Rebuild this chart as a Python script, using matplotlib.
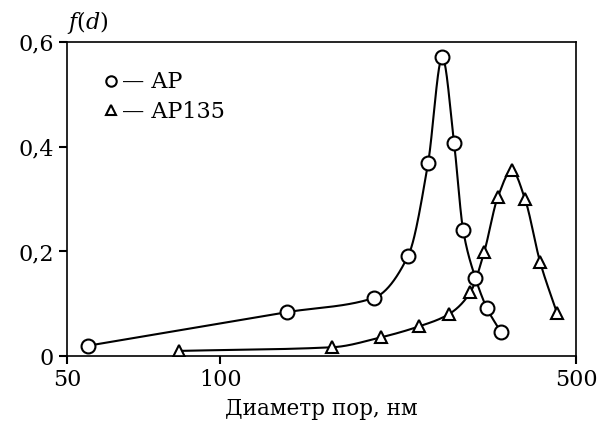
import numpy as np
import matplotlib
matplotlib.use('Agg')
import matplotlib.pyplot as plt
from matplotlib.ticker import FixedLocator, NullLocator

plt.rcParams['font.family'] = ['DejaVu Serif']
plt.rcParams['mathtext.fontset'] = 'dejavuserif'

# AP (circles)
ap_d = [55, 135, 200, 234, 256, 273, 288, 300, 317, 334, 356]
ap_f = [0.020, 0.084, 0.111, 0.192, 0.369, 0.571, 0.407, 0.241, 0.150, 0.092, 0.046]

# AP135 (triangles)
ap135_d = [83, 166, 207, 246, 281, 310, 330, 351, 374, 397, 425, 459]
ap135_f = [0.010, 0.017, 0.036, 0.057, 0.080, 0.122, 0.199, 0.304, 0.355, 0.300, 0.180, 0.082]

x_ticks = [50, 100, 500]
x_tick_labels = ['50', '100', '500']
y_ticks = [0, 0.2, 0.4, 0.6]
y_tick_labels = ['0', '0,2', '0,4', '0,6']


def pchip(x, y, n=40):
    # monotone cubic through the points, in log-x space
    x = np.log10(np.asarray(x, float))
    y = np.asarray(y, float)
    h = np.diff(x)
    delta = np.diff(y) / h
    m = np.zeros_like(y)
    for k in range(1, len(y) - 1):
        if delta[k - 1] * delta[k] > 0:
            w1 = 2 * h[k] + h[k - 1]
            w2 = h[k] + 2 * h[k - 1]
            m[k] = (w1 + w2) / (w1 / delta[k - 1] + w2 / delta[k])
    m[0] = delta[0]
    m[-1] = delta[-1]
    xs, ys = [], []
    for k in range(len(h)):
        t = np.linspace(0, 1, n)
        h00 = 2 * t**3 - 3 * t**2 + 1
        h10 = t**3 - 2 * t**2 + t
        h01 = -2 * t**3 + 3 * t**2
        h11 = t**3 - t**2
        xs.append(x[k] + t * h[k])
        ys.append(h00 * y[k] + h10 * h[k] * m[k] + h01 * y[k + 1] + h11 * h[k] * m[k + 1])
    return 10 ** np.concatenate(xs), np.concatenate(ys)


fig = plt.figure(figsize=(6, 4.26), dpi=100)
ax = fig.add_axes([0.112, 0.164, 0.848, 0.737])

sx, sy = pchip(ap_d, ap_f)
ax.plot(sx, sy, color='black', lw=1.5)
sx, sy = pchip(ap135_d, ap135_f)
ax.plot(sx, sy, color='black', lw=1.5)

ax.plot(ap_d, ap_f, 'o', ms=10, mfc='white', mec='black', mew=1.5, label='— AP')
ax.plot(ap135_d, ap135_f, '^', ms=9, mfc='white', mec='black', mew=1.5, label='— AP135')

ax.set_xscale('log')
ax.set_xlim(50, 500)
ax.set_ylim(0, 0.6)
ax.xaxis.set_major_locator(FixedLocator(x_ticks))
ax.xaxis.set_minor_locator(NullLocator())
ax.set_xticklabels(x_tick_labels)
ax.set_yticks(y_ticks)
ax.set_yticklabels(y_tick_labels)
ax.tick_params(labelsize=16, length=6, width=1.5, direction='out')
for s in ax.spines.values():
    s.set_linewidth(1.2)

ax.set_xlabel('Диаметр пор, нм', fontsize=15.5, labelpad=5)
ax.text(0.0, 1.02, r'$f(d)$', transform=ax.transAxes, fontsize=16, ha='left', va='bottom')

ax.legend(loc='upper left', bbox_to_anchor=(0.06, 0.935), frameon=False, fontsize=16,
          markerscale=0.75, handlelength=0.4, handletextpad=0.3, labelspacing=0.35,
          borderaxespad=0)

fig.savefig('out.png', dpi=100)
